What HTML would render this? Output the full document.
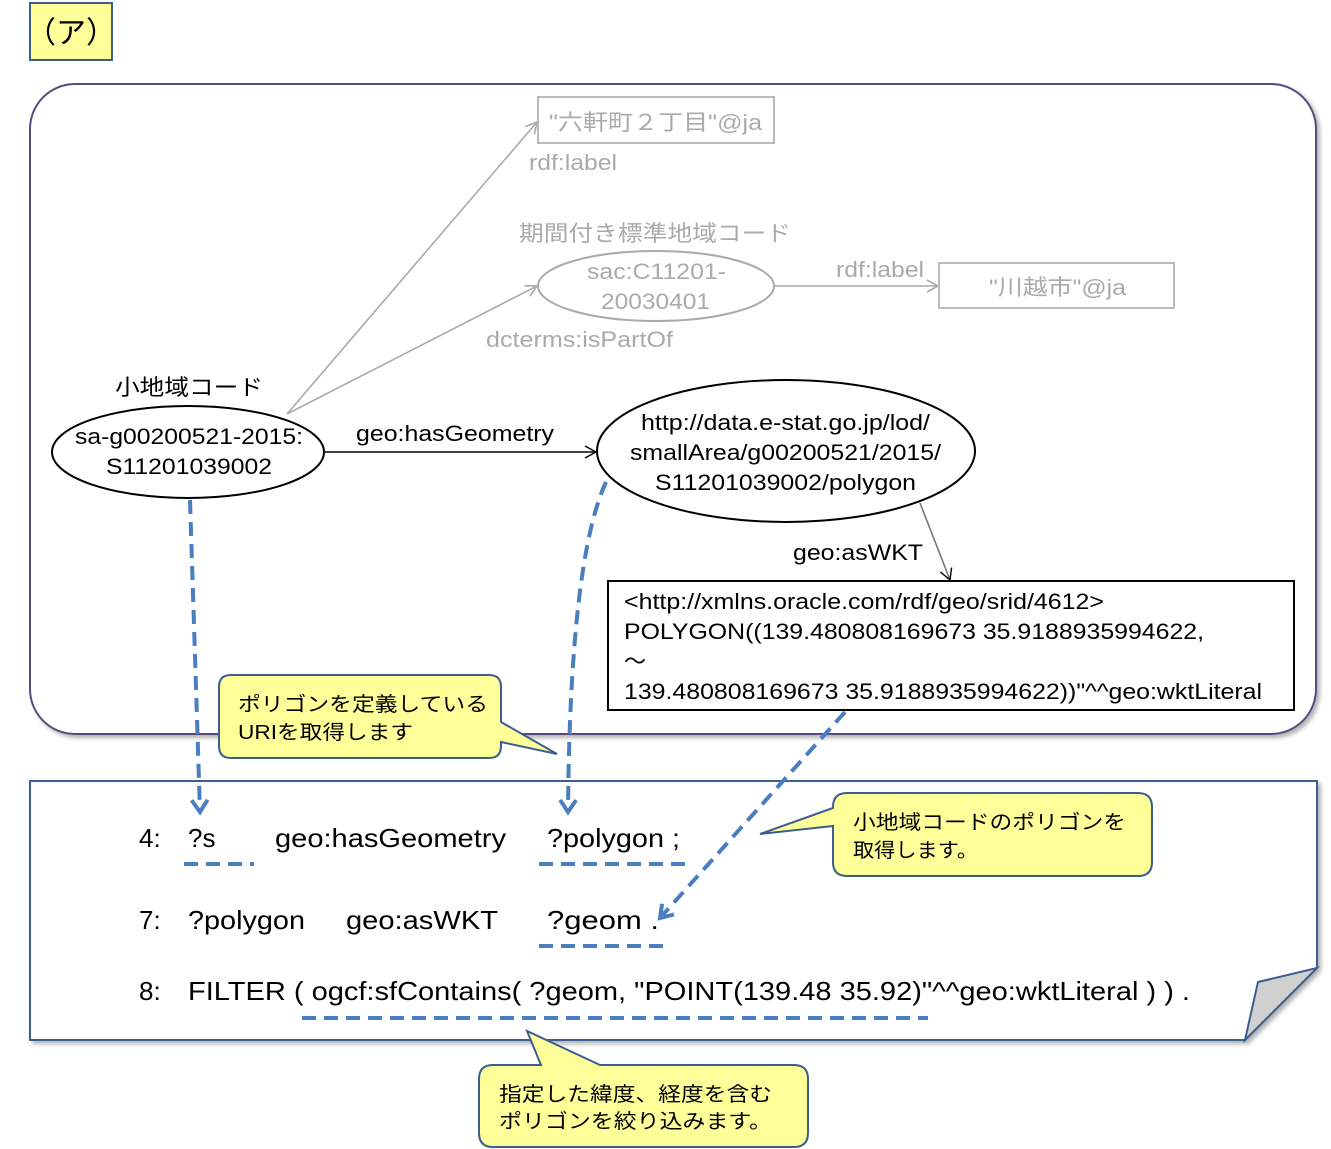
<!DOCTYPE html>
<html><head><meta charset="utf-8"><style>
html,body{margin:0;padding:0;background:#fff}
svg{display:block}
text{font-family:"Liberation Sans","Noto Sans CJK JP",sans-serif}
</style></head><body>
<svg width="1331" height="1149" viewBox="0 0 1331 1149" xmlns="http://www.w3.org/2000/svg">
<defs>
<marker id="ag" markerWidth="14" markerHeight="14" refX="12" refY="7" orient="auto" markerUnits="userSpaceOnUse"><path d="M1,1 L12,7 L1,13" fill="none" stroke="#aaa" stroke-width="1.6"/></marker>
<marker id="ak" markerWidth="14" markerHeight="14" refX="12" refY="7" orient="auto" markerUnits="userSpaceOnUse"><path d="M1,1 L12,7 L1,13" fill="none" stroke="#000" stroke-width="1.4"/></marker>
<marker id="ab" markerWidth="20" markerHeight="20" refX="14" refY="10" orient="auto" markerUnits="userSpaceOnUse"><path d="M2,2 L14,10 L2,18" fill="none" stroke="#4a7ec0" stroke-width="4"/></marker>
<filter id="sh" x="-5%" y="-5%" width="110%" height="115%"><feDropShadow dx="3" dy="3" stdDeviation="2" flood-color="#000" flood-opacity="0.3"/></filter>
</defs>

<rect x="30" y="3" width="82" height="57" fill="#ffff99" stroke="#3b5e8f" stroke-width="2"/>
<text x="71" y="43" font-size="30" text-anchor="middle">（ア）</text>

<rect x="30" y="84" width="1286" height="650" rx="45" fill="#fff" stroke="#5a4a7f" stroke-width="2" filter="url(#sh)"/>

<rect x="538" y="97" width="236" height="46" fill="#fff" stroke="#bbb" stroke-width="2"/>
<text x="549" y="130" font-size="22" fill="#aaa" textLength="213" lengthAdjust="spacingAndGlyphs">"六軒町２丁目"@ja</text>
<text x="529" y="170" font-size="22" fill="#aaa" textLength="88" lengthAdjust="spacingAndGlyphs">rdf:label</text>
<text x="519" y="241" font-size="22" fill="#aaa" textLength="272" lengthAdjust="spacingAndGlyphs">期間付き標準地域コード</text>
<ellipse cx="656" cy="286" rx="118" ry="35" fill="#fff" stroke="#aaa" stroke-width="2"/>
<text x="587" y="279" font-size="22" fill="#aaa" textLength="139" lengthAdjust="spacingAndGlyphs">sac:C11201-</text>
<text x="601" y="309" font-size="22" fill="#aaa" textLength="109" lengthAdjust="spacingAndGlyphs">20030401</text>
<line x1="774" y1="286" x2="938" y2="286" stroke="#aaa" stroke-width="1.6" marker-end="url(#ag)"/>
<text x="836" y="277" font-size="22" fill="#aaa" textLength="88" lengthAdjust="spacingAndGlyphs">rdf:label</text>
<rect x="939" y="263" width="235" height="45" fill="#fff" stroke="#bbb" stroke-width="2"/>
<text x="989" y="295" font-size="22" fill="#aaa" textLength="137" lengthAdjust="spacingAndGlyphs">"川越市"@ja</text>
<text x="486" y="347" font-size="22" fill="#aaa" textLength="187" lengthAdjust="spacingAndGlyphs">dcterms:isPartOf</text>
<line x1="287" y1="414" x2="537" y2="122" stroke="#aaa" stroke-width="1.6" marker-end="url(#ag)"/>
<line x1="287" y1="414" x2="537" y2="286" stroke="#aaa" stroke-width="1.6" marker-end="url(#ag)"/>

<text x="115" y="395" font-size="22" textLength="148" lengthAdjust="spacingAndGlyphs">小地域コード</text>
<ellipse cx="188" cy="452" rx="136" ry="46" fill="#fff" stroke="#000" stroke-width="2"/>
<text x="75" y="444" font-size="22" textLength="228" lengthAdjust="spacingAndGlyphs">sa-g00200521-2015:</text>
<text x="106" y="474" font-size="22" textLength="166" lengthAdjust="spacingAndGlyphs">S11201039002</text>
<line x1="325" y1="452" x2="596" y2="452" stroke="#000" stroke-width="1.4" marker-end="url(#ak)"/>
<text x="356" y="441" font-size="22" textLength="198" lengthAdjust="spacingAndGlyphs">geo:hasGeometry</text>
<ellipse cx="786" cy="451" rx="189" ry="71" fill="#fff" stroke="#000" stroke-width="2"/>
<text x="641" y="430" font-size="22" textLength="289" lengthAdjust="spacingAndGlyphs">http://data.e-stat.go.jp/lod/</text>
<text x="630" y="460" font-size="22" textLength="311" lengthAdjust="spacingAndGlyphs">smallArea/g00200521/2015/</text>
<text x="655" y="490" font-size="22" textLength="261" lengthAdjust="spacingAndGlyphs">S11201039002/polygon</text>
<line x1="920" y1="503" x2="950" y2="580" stroke="#777" stroke-width="1.6" marker-end="url(#ak)"/>
<text x="793" y="560" font-size="22" textLength="130" lengthAdjust="spacingAndGlyphs">geo:asWKT</text>
<rect x="608" y="581" width="686" height="129" fill="#fff" stroke="#000" stroke-width="2"/>
<text x="624" y="609" font-size="22" textLength="480" lengthAdjust="spacingAndGlyphs">&lt;http://xmlns.oracle.com/rdf/geo/srid/4612&gt;</text>
<text x="624" y="639" font-size="22" textLength="580" lengthAdjust="spacingAndGlyphs">POLYGON((139.480808169673 35.9188935994622,</text>
<text x="624" y="669" font-size="22">～</text>
<text x="624" y="699" font-size="22" textLength="638" lengthAdjust="spacingAndGlyphs">139.480808169673 35.9188935994622))"^^geo:wktLiteral</text>

<path d="M30,781 L1317,781 L1317,968 L1245,1040 L30,1040 Z" fill="#fff" stroke="#3b5e8f" stroke-width="2" filter="url(#sh)"/>
<path d="M1317,968 L1258,982 L1245,1040 Z" fill="#d0d0d0" stroke="#3b5e8f" stroke-width="2"/>
<g font-size="26">
<text x="139" y="847">4:</text><text x="188" y="847">?s</text><text x="275" y="847" textLength="231" lengthAdjust="spacingAndGlyphs">geo:hasGeometry</text><text x="547" y="847" textLength="133" lengthAdjust="spacingAndGlyphs">?polygon ;</text>
<text x="139" y="929">7:</text><text x="188" y="929" textLength="117" lengthAdjust="spacingAndGlyphs">?polygon</text><text x="346" y="929" textLength="152" lengthAdjust="spacingAndGlyphs">geo:asWKT</text><text x="547" y="929" textLength="112" lengthAdjust="spacingAndGlyphs">?geom  .</text>
<text x="139" y="1000">8:</text><text x="188" y="1000" textLength="1002" lengthAdjust="spacingAndGlyphs">FILTER ( ogcf:sfContains( ?geom, "POINT(139.48 35.92)"^^geo:wktLiteral ) ) .</text>
</g>
<g stroke="#4a7ec0" stroke-width="4" stroke-dasharray="14,8" fill="none">
<line x1="184" y1="864" x2="254" y2="864"/>
<line x1="539" y1="864" x2="692" y2="864"/>
<line x1="539" y1="946" x2="668" y2="946"/>
<line x1="302" y1="1018" x2="928" y2="1018"/>
<path d="M190,500 L200,812" marker-end="url(#ab)"/>
<path d="M606,482 Q570,560 568,812" marker-end="url(#ab)"/>
<path d="M845,712 L660,918" marker-end="url(#ab)"/>
</g>

<path d="M231,675 H489 Q501,675 501,687 V722 L557,754 L501,742 V746 Q501,758 489,758 H231 Q219,758 219,746 V687 Q219,675 231,675 Z" fill="#ffff99" stroke="#3b5e8f" stroke-width="2"/>
<text x="238" y="711" font-size="20" textLength="250" lengthAdjust="spacingAndGlyphs">ポリゴンを定義している</text>
<text x="238" y="739" font-size="20" textLength="175" lengthAdjust="spacingAndGlyphs">URIを取得します</text>
<path d="M847,793 H1138 Q1152,793 1152,807 V862 Q1152,876 1138,876 H847 Q833,876 833,862 V826 L760,834 L833,808 V807 Q833,793 847,793 Z" fill="#ffff99" stroke="#3b5e8f" stroke-width="2"/>
<text x="853" y="829" font-size="20" textLength="273" lengthAdjust="spacingAndGlyphs">小地域コードのポリゴンを</text>
<text x="853" y="857" font-size="20" textLength="125" lengthAdjust="spacingAndGlyphs">取得します。</text>
<path d="M493,1065 H541 L527,1031 L600,1065 H794 Q808,1065 808,1079 V1133 Q808,1147 794,1147 H493 Q479,1147 479,1133 V1079 Q479,1065 493,1065 Z" fill="#ffff99" stroke="#3b5e8f" stroke-width="2"/>
<text x="499" y="1101" font-size="20" textLength="273" lengthAdjust="spacingAndGlyphs">指定した緯度、経度を含む</text>
<text x="499" y="1128" font-size="20" textLength="273" lengthAdjust="spacingAndGlyphs">ポリゴンを絞り込みます。</text>
</svg>
</body></html>
